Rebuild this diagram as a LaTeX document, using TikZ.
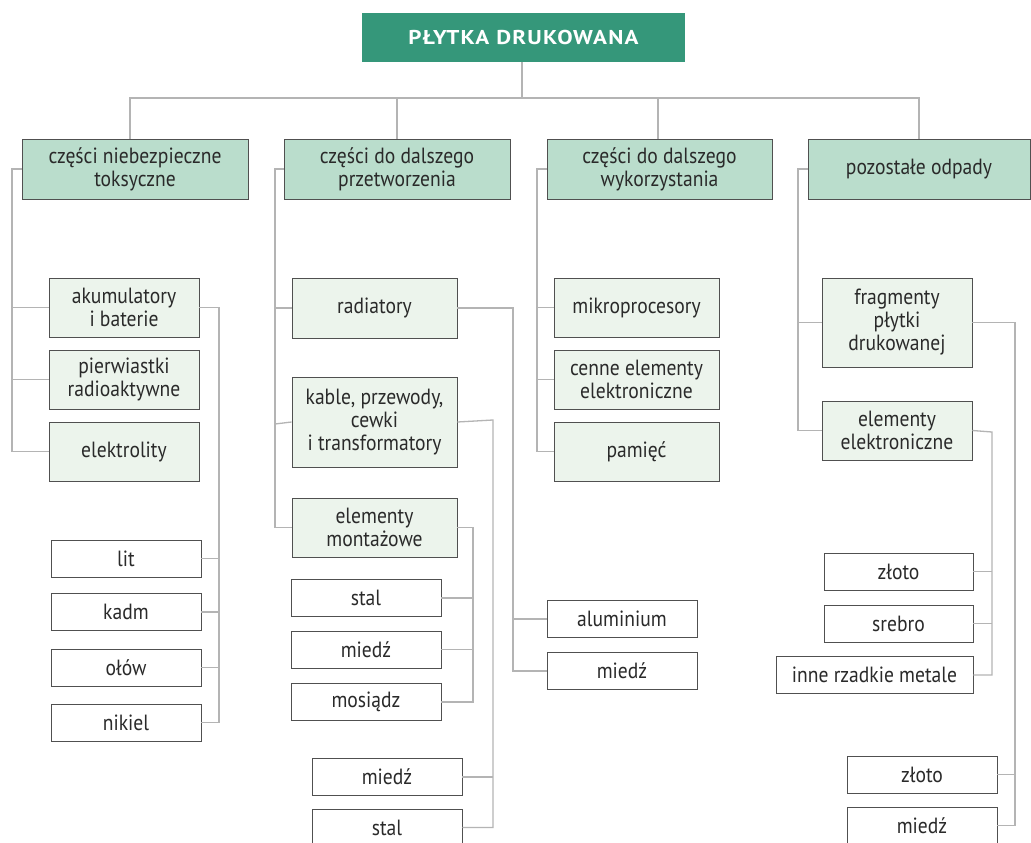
\documentclass[tikz,border=0pt]{standalone}
\usepackage{fontspec}
\setmainfont{PT Sans}[FakeStretch=0.89]
\newfontfamily\titlefont{PT Sans}[FakeStretch=1.15,LetterSpace=6]
\definecolor{rootc}{HTML}{35977A}
\definecolor{lonec}{HTML}{BADDCC}
\definecolor{ltwoc}{HTML}{ECF4EC}
\definecolor{bordc}{HTML}{505050}
\definecolor{connc}{HTML}{B4B4B4}
\definecolor{textc}{HTML}{2A2A2A}
\tikzset{
  box/.style={draw=bordc, line width=0.9pt, align=center, inner sep=0pt, text=textc,
    font=\fontsize{22}{23}\selectfont},
  lvlone/.style={box, fill=lonec, minimum height=60pt},
  lvltwo/.style={box, fill=ltwoc},
  leaf/.style={box, fill=white, minimum width=150pt, minimum height=37pt},
  conn/.style={draw=connc, line width=1.3pt},
}
\begin{document}
\begin{tikzpicture}[x=1pt,y=-1pt]
\useasboundingbox (0,0) rectangle (1031,843);
\clip (0,0) rectangle (1031,843);
\fill[white] (0,0) rectangle (1031,843);

% root
\node[fill=rootc, minimum width=323pt, minimum height=49pt, inner sep=0pt,
  text=white, font=\titlefont\fontsize{20}{22}\selectfont\bfseries] (root) at (523.5,37.5) {PŁYTKA DRUKOWANA};

% level one
\node[lvlone, minimum width=226pt] (n1) at (135,169) {części niebezpieczne\\toksyczne};
\node[lvlone, minimum width=226pt] (n2) at (397,169) {części do dalszego\\przetworzenia};
\node[lvlone, minimum width=225pt] (n3) at (659.5,169) {części do dalszego\\wykorzystania};
\node[lvlone, minimum width=222pt] (n4) at (919,169) {pozostałe odpady};

% column 1
\node[lvltwo, minimum width=150pt, minimum height=59pt] (a1) at (124,307.5) {akumulatory\\i baterie};
\node[lvltwo, minimum width=150pt, minimum height=59pt] (a2) at (124,379.5) {pierwiastki\\radioaktywne};
\node[lvltwo, minimum width=150pt, minimum height=59pt] (a3) at (124,451.5) {elektrolity};
\node[leaf] (lit) at (126,558.5) {lit};
\node[leaf] (kadm) at (126,612) {kadm};
\node[leaf] (olow) at (126,667.5) {ołów};
\node[leaf] (nikiel) at (126,722.5) {nikiel};

% column 2
\node[lvltwo, minimum width=165pt, minimum height=60pt] (b1) at (374.5,308) {radiatory};
\node[lvltwo, minimum width=165pt, minimum height=90pt] (b2) at (374.5,422) {kable, przewody,\\cewki\\i transformatory};
\node[lvltwo, minimum width=165pt, minimum height=59pt] (b3) at (374.5,527.5) {elementy\\montażowe};
\node[leaf] (stalA) at (366,598) {stal};
\node[leaf] (miedzA) at (366,649.5) {miedź};
\node[leaf] (mosiadz) at (366,702) {mosiądz};
\node[leaf] (miedzB) at (387,777) {miedź};
\node[leaf] (stalB) at (387,827.5) {stal};
\node[leaf] (alu) at (622,619) {aluminium};
\node[leaf] (miedzC) at (622,671) {miedź};

% column 3
\node[lvltwo, minimum width=165pt, minimum height=59pt] (c1) at (636.5,307.5) {mikroprocesory};
\node[lvltwo, minimum width=165pt, minimum height=59pt] (c2) at (636.5,379.5) {cenne elementy\\elektroniczne};
\node[lvltwo, minimum width=165pt, minimum height=59pt] (c3) at (636.5,451.5) {pamięć};

% column 4
\node[lvltwo, minimum width=150pt, minimum height=89pt] (d1) at (897,322.5) {fragmenty\\płytki\\drukowanej};
\node[lvltwo, minimum width=150pt, minimum height=59pt] (d2) at (897,430.5) {elementy\\elektroniczne};
\node[leaf, minimum width=149pt] (zlotoA) at (898.5,571.5) {złoto};
\node[leaf, minimum width=149pt] (srebro) at (898.5,623.5) {srebro};
\node[leaf, minimum width=197pt] (inne) at (874.5,675) {inne rzadkie metale};
\node[leaf] (zlotoB) at (922,774.5) {złoto};
\node[leaf] (miedzD) at (922,825.5) {miedź};

% root bus
\coordinate (bus) at (522,98);
\draw[conn] (root.south -| bus) -- (bus);
\draw[conn] ([xshift=-5pt]n1.north) -- ([xshift=-5pt]n1.north |- bus) -- (n4.north |- bus) -- (n4.north);
\draw[conn] (n2.north) -- (n2.north |- bus);
\draw[conn] ([xshift=-1.5pt]n3.north) -- ([xshift=-1.5pt]n3.north |- bus);

% left trunks
\coordinate (t1) at (12,169);
\draw[conn] (n1.west) -- (t1) |- (a3.west);
\draw[conn] (a1.west) -- (a1.west -| t1);
\draw[conn] (a2.west) -- (a2.west -| t1);

\coordinate (t2) at (275,169);
\draw[conn] (n2.west) -- (t2) |- (b3.west);
\draw[conn] (b1.west) -- (b1.west -| t2);
\draw[conn] (b2.west) -- ([yshift=-2pt]b2.west -| t2);

\coordinate (t3) at (537,169);
\draw[conn] (n3.west) -- (t3) |- (c3.west);
\draw[conn] (c1.west) -- (c1.west -| t3);
\draw[conn] (c2.west) -- (c2.west -| t3);

\coordinate (t4) at (798,169);
\draw[conn] (n4.west) -- (t4) |- (d2.west);
\draw[conn] (d1.west) -- (d1.west -| t4);

% right brackets
\coordinate (r1) at (219,307.5);
\draw[conn] (a1.east) -- (r1) |- (nikiel.east);
\draw[conn] (lit.east) -- (lit.east -| r1);
\draw[conn] (kadm.east) -- (kadm.east -| r1);
\draw[conn] (olow.east) -- (olow.east -| r1);

\coordinate (r2) at (473,527.5);
\draw[conn] (b3.east) -- (r2) |- (mosiadz.east);
\draw[conn] (stalA.east) -- (stalA.east -| r2);
\draw[conn] (miedzA.east) -- (miedzA.east -| r2);

\coordinate (r3) at (493,420);
\draw[conn] (b2.east) -- (r3) |- (stalB.east);
\draw[conn] (miedzB.east) -- (miedzB.east -| r3);

\coordinate (r4) at (513,308);
\draw[conn] (b1.east) -- (r4) |- (miedzC.west);
\draw[conn] (alu.west) -- (alu.west -| r4);

\coordinate (r5) at (992,432);
\draw[conn] (d2.east) -- (r5) |- (inne.east);
\draw[conn] (zlotoA.east) -- (zlotoA.east -| r5);
\draw[conn] (srebro.east) -- (srebro.east -| r5);

\coordinate (r6) at (1015,322.5);
\draw[conn] (d1.east) -- (r6) |- (miedzD.east);
\draw[conn] (zlotoB.east) -- (zlotoB.east -| r6);
\end{tikzpicture}
\end{document}
